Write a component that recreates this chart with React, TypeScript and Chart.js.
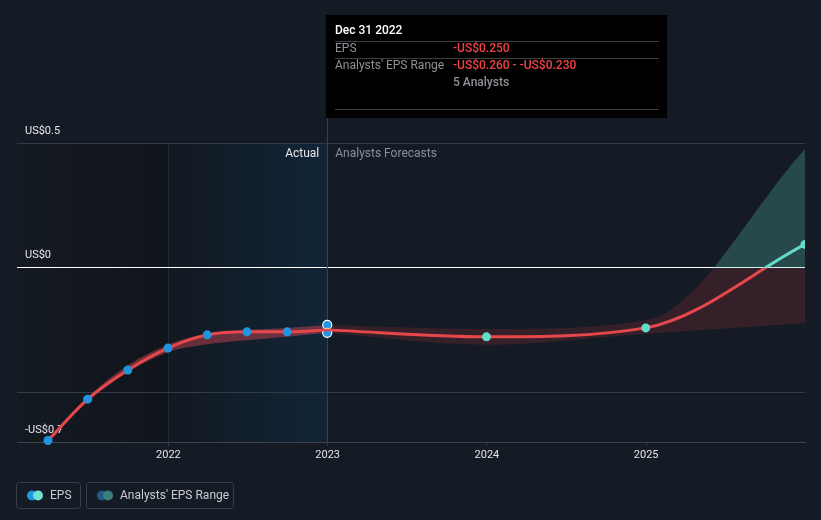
import React, { useEffect, useRef } from 'react';
import { Chart, registerables } from 'chart.js';

Chart.register(...registerables);

// ---- data ----
const pastDates = ['2021-03-31', '2021-06-30', '2021-09-30', '2021-12-31', '2022-03-31', '2022-06-30', '2022-09-30', '2022-12-31'];
const pastEps = [-0.694, -0.528, -0.411, -0.323, -0.27, -0.258, -0.258, -0.25];
const pastRangeLow = [-0.7, -0.538, -0.42, -0.34, -0.308, -0.292, -0.278, -0.262];
const pastRangeHigh = [-0.688, -0.52, -0.392, -0.31, -0.265, -0.25, -0.242, -0.23];

const forecastDates = ['2022-12-31', '2023-12-31', '2024-12-31', '2025-12-31'];
const forecastEps = [-0.25, -0.278, -0.242, 0.093];
const forecastLow = [-0.262, -0.31, -0.266, -0.222];
const forecastHigh = [-0.23, -0.246, -0.212, 0.475];

const xTickYears = [2022, 2023, 2024, 2025];
const yTickValues = [0.5, 0, -0.5, -0.7];
const yTickLabels = ['US$0.5', 'US$0', '', '-US$0.7'];

const xMinDate = '2021-01-19';
const xMaxDate = '2025-12-31';
const shadeStartDate = '2021-12-31';
const nowDate = '2022-12-31';

const tooltipTitle = 'Dec 31 2022';
const tooltipEps = '-US$0.250';
const tooltipRange = '-US$0.260 - -US$0.230';
const tooltipAnalysts = '5 Analysts';

// ---- styles ----
const FONT = 'Roboto, "Noto Sans", sans-serif';
const BG = '#151b24';
const RED = '#e5474b';
const TEAL = '#64dcc8';
const BLUE = '#2394df';
const GRID = '#353b45';

function toYear(d: string): number {
  const dt = new Date(d + 'T00:00:00Z');
  const y = dt.getUTCFullYear();
  const s = Date.UTC(y, 0, 1);
  const e = Date.UTC(y + 1, 0, 1);
  return y + (dt.getTime() - s) / (e - s);
}

function signGradient(chart: any, above: string, below: string) {
  const { chartArea, scales } = chart;
  if (!chartArea) return below;
  const y0 = scales.y.getPixelForValue(0);
  const g = chart.ctx.createLinearGradient(0, chartArea.top, 0, chartArea.bottom);
  let t = (y0 - chartArea.top) / (chartArea.bottom - chartArea.top);
  t = Math.max(0, Math.min(1, t));
  g.addColorStop(0, above);
  g.addColorStop(t, above);
  g.addColorStop(t, below);
  g.addColorStop(1, below);
  return g;
}

const decorPlugin = {
  id: 'decor',
  beforeDraw(chart: any) {
    const { ctx, chartArea, scales } = chart;
    const x = scales.x;
    const xs = x.getPixelForValue(toYear(shadeStartDate));
    const xn = x.getPixelForValue(toYear(nowDate));
    const top = chartArea.top;
    const bot = chartArea.bottom;
    ctx.save();
    let g = ctx.createLinearGradient(chartArea.left, 0, xs, 0);
    g.addColorStop(0, 'rgba(12,14,18,0.05)');
    g.addColorStop(1, 'rgba(12,14,18,0.5)');
    ctx.fillStyle = g;
    ctx.fillRect(chartArea.left, top, xs - chartArea.left, bot - top);
    g = ctx.createLinearGradient(xs, 0, xn, 0);
    g.addColorStop(0, '#121921');
    g.addColorStop(1, '#112538');
    ctx.fillStyle = g;
    ctx.fillRect(xs, top, xn - xs, bot - top);
    ctx.strokeStyle = '#1b2a38';
    ctx.lineWidth = 1;
    ctx.beginPath();
    ctx.moveTo(Math.round(xs) + 0.5, top);
    ctx.lineTo(Math.round(xs) + 0.5, bot);
    ctx.stroke();
    ctx.restore();
  },
  beforeDatasetsDraw(chart: any) {
    const { ctx, chartArea, scales } = chart;
    const xn = scales.x.getPixelForValue(toYear(nowDate));
    ctx.save();
    ctx.strokeStyle = '#2e4357';
    ctx.lineWidth = 1;
    ctx.beginPath();
    ctx.moveTo(Math.round(xn) + 0.5, 118);
    ctx.lineTo(Math.round(xn) + 0.5, chartArea.bottom);
    ctx.stroke();
    ctx.restore();
  },
  afterDraw(chart: any) {
    const { ctx, chartArea, scales } = chart;
    const xn = scales.x.getPixelForValue(toYear(nowDate));
    ctx.save();
    ctx.textBaseline = 'middle';
    // section labels
    ctx.font = `12px ${FONT}`;
    ctx.fillStyle = '#e8e8e8';
    ctx.textAlign = 'right';
    ctx.fillText('Actual', xn - 8, chartArea.top + 11);
    ctx.textAlign = 'left';
    ctx.fillStyle = '#8a9099';
    ctx.fillText('Analysts Forecasts', xn + 8, chartArea.top + 11);

    // tooltip
    const bx = Math.round(xn) - 1;
    const by = 15;
    const bw = 341;
    const bh = 103;
    ctx.fillStyle = '#000000';
    ctx.fillRect(bx, by, bw, bh);
    const lx = bx + 9;
    const vx = bx + 127;
    ctx.strokeStyle = '#3c3f44';
    ctx.lineWidth = 1;
    [41.5, 58.5, 109.5].forEach((yy) => {
      ctx.beginPath();
      ctx.moveTo(lx, yy);
      ctx.lineTo(bx + bw - 8, yy);
      ctx.stroke();
    });
    ctx.textAlign = 'left';
    ctx.font = `500 12px ${FONT}`;
    ctx.fillStyle = '#ffffff';
    ctx.fillText(tooltipTitle, lx, 31);
    ctx.font = `12px ${FONT}`;
    ctx.fillStyle = '#8e9297';
    ctx.fillText('EPS', lx, 48.5);
    ctx.fillText("Analysts' EPS Range", lx, 66);
    ctx.font = `500 12px ${FONT}`;
    ctx.fillStyle = '#f04245';
    ctx.fillText(tooltipEps, vx, 48.5);
    ctx.fillText(tooltipRange, vx, 66);
    ctx.fillStyle = '#8e9297';
    ctx.fillText(tooltipAnalysts, vx, 83);

    // legend
    const drawBox = (x0: number, w: number) => {
      ctx.strokeStyle = '#3a3f48';
      ctx.lineWidth = 1;
      ctx.beginPath();
      const r = 3, y0 = 482.5, h = 26, xx = x0 + 0.5;
      ctx.moveTo(xx + r, y0);
      ctx.lineTo(xx + w - r, y0);
      ctx.arcTo(xx + w, y0, xx + w, y0 + r, r);
      ctx.lineTo(xx + w, y0 + h - r);
      ctx.arcTo(xx + w, y0 + h, xx + w - r, y0 + h, r);
      ctx.lineTo(xx + r, y0 + h);
      ctx.arcTo(xx, y0 + h, xx, y0 + h - r, r);
      ctx.lineTo(xx, y0 + r);
      ctx.arcTo(xx, y0, xx + r, y0, r);
      ctx.stroke();
    };
    const dot = (x0: number, c: string) => {
      ctx.fillStyle = c;
      ctx.beginPath();
      ctx.arc(x0, 495.5, 5, 0, Math.PI * 2);
      ctx.fill();
    };
    drawBox(16, 64);
    dot(32, BLUE);
    dot(38, '#6fe3d2');
    ctx.font = `12px ${FONT}`;
    ctx.fillStyle = '#c9ccd1';
    ctx.fillText('EPS', 50, 496);
    drawBox(86, 147);
    dot(102, '#1f5a85');
    dot(108, '#3c7e78');
    ctx.fillStyle = '#c9ccd1';
    ctx.fillText("Analysts' EPS Range", 120, 496);
    ctx.restore();
  },
};

export default function App() {
  const ref = useRef<HTMLCanvasElement | null>(null);

  useEffect(() => {
    document.body.style.margin = '0';
    document.body.style.background = BG;
    const canvas = ref.current;
    if (!canvas) return;

    const pastX = pastDates.map(toYear);
    const foreX = forecastDates.map(toYear);
    const lastPast = pastDates.length - 1;

    const chart = new Chart(canvas, {
      type: 'line',
      data: {
        datasets: [
          {
            label: 'pastLow',
            data: pastX.map((x, i) => ({ x, y: pastRangeLow[i] })),
            borderWidth: 0,
            borderColor: 'transparent',
            pointRadius: (c: any) => (c.dataIndex === lastPast ? 4.5 : 0),
            pointBackgroundColor: BLUE,
            pointBorderColor: '#ffffff',
            pointBorderWidth: 1.2,
            cubicInterpolationMode: 'monotone',
            fill: false,
            order: 5,
            clip: 8,
          },
          {
            label: 'pastHigh',
            data: pastX.map((x, i) => ({ x, y: pastRangeHigh[i] })),
            borderWidth: 0,
            borderColor: 'transparent',
            backgroundColor: 'rgba(214,70,84,0.45)',
            pointRadius: (c: any) => (c.dataIndex === lastPast ? 4.5 : 0),
            pointBackgroundColor: BLUE,
            pointBorderColor: '#ffffff',
            pointBorderWidth: 1.2,
            cubicInterpolationMode: 'monotone',
            fill: { target: 0 },
            order: 5,
            clip: 8,
          },
          {
            label: 'foreLow',
            data: foreX.map((x, i) => ({ x, y: forecastLow[i] })),
            borderWidth: 0,
            borderColor: 'transparent',
            pointRadius: 0,
            cubicInterpolationMode: 'monotone',
            fill: false,
            order: 6,
          },
          {
            label: 'foreHigh',
            data: foreX.map((x, i) => ({ x, y: forecastHigh[i] })),
            borderWidth: 0,
            borderColor: 'transparent',
            backgroundColor: (c: any) => signGradient(c.chart, 'rgba(88,200,182,0.27)', 'rgba(214,60,70,0.17)'),
            pointRadius: 0,
            cubicInterpolationMode: 'monotone',
            fill: { target: 2 },
            order: 6,
          },
          {
            label: 'EPS forecast',
            data: foreX.map((x, i) => ({ x, y: forecastEps[i] })),
            borderWidth: 3,
            borderColor: (c: any) => signGradient(c.chart, TEAL, RED),
            pointRadius: (c: any) => (c.dataIndex === 0 ? 0 : 4.5),
            pointBackgroundColor: TEAL,
            pointBorderWidth: 0,
            cubicInterpolationMode: 'monotone',
            fill: false,
            order: 2,
          },
          {
            label: 'EPS',
            data: pastX.map((x, i) => ({ x, y: pastEps[i] })),
            borderWidth: 3,
            borderColor: RED,
            pointRadius: (c: any) => (c.dataIndex === lastPast ? 0 : 4.5),
            pointBackgroundColor: BLUE,
            pointBorderWidth: 0,
            cubicInterpolationMode: 'monotone',
            fill: false,
            order: 1,
            clip: 8,
          },
        ],
      },
      options: {
        responsive: false,
        animation: false,
        events: [],
        layout: { padding: { left: 17, right: 16, top: 143, bottom: 48 } },
        plugins: { legend: { display: false }, tooltip: { enabled: false } },
        scales: {
          x: {
            type: 'linear',
            min: toYear(xMinDate),
            max: toYear(xMaxDate),
            afterBuildTicks: (s: any) => {
              s.ticks = xTickYears.map((v) => ({ value: v }));
            },
            afterFit: (s: any) => {
              s.height = 30;
            },
            grid: { drawOnChartArea: false, drawTicks: true, tickLength: 4, color: GRID },
            border: { display: true, color: '#3d424b', width: 1 },
            ticks: {
              color: '#e4e4e4',
              font: { family: FONT, size: 11 },
              padding: 3,
              maxRotation: 0,
              autoSkip: false,
              callback: (v: any) => String(v),
            },
          },
          y: {
            type: 'linear',
            min: -0.7,
            max: 0.5,
            afterBuildTicks: (s: any) => {
              s.ticks = yTickValues.map((v) => ({ value: v }));
            },
            afterFit: (s: any) => {
              s.width = 0;
            },
            grid: {
              drawTicks: false,
              color: (c: any) => (c.tick && c.tick.value === 0 ? '#ffffff' : GRID),
              lineWidth: 1,
            },
            border: { display: false },
            ticks: {
              mirror: true,
              padding: 8,
              labelOffset: -12,
              color: '#e8e8e8',
              font: { family: FONT, size: 11 },
              autoSkip: false,
              callback: (v: any) => {
                const i = yTickValues.indexOf(Number(v));
                return i >= 0 ? yTickLabels[i] : '';
              },
            },
          },
        },
      },
      plugins: [decorPlugin],
    } as any);

    return () => chart.destroy();
  }, []);

  return (
    <div style={{ width: 821, height: 520, background: BG, position: 'relative' }}>
      <canvas ref={ref} width={821} height={520} style={{ display: 'block' }} />
    </div>
  );
}
